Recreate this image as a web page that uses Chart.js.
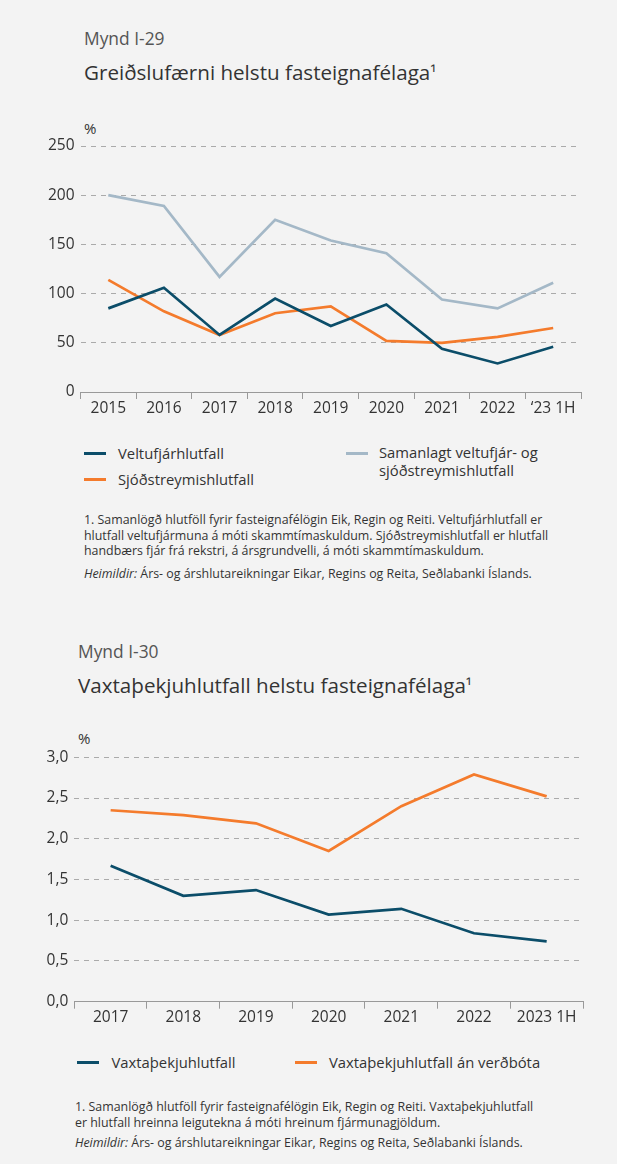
<!DOCTYPE html>
<html>
<head>
<meta charset="utf-8">
<script src="https://cdn.jsdelivr.net/npm/chart.js@4/dist/chart.umd.min.js"></script>
<style>
  html, body { margin:0; padding:0; background:#f3f3f3; }
  body { width:617px; height:1164px; position:relative; overflow:hidden;
         font-family:"Open Sans", "Noto Sans", sans-serif; color:#333; }
  .t { position:absolute; white-space:nowrap; }
  .mynd { font-size:17.4px; line-height:20px; color:#555; }
  .title { font-size:20.6px; line-height:24px; color:#333; }
  .title .s { font-size:0.85em; position:relative; top:-0.05em; }
  .unit { font-size:15px; line-height:18px; color:#333; }
  .leg { position:absolute; font-size:14.8px; line-height:18px; color:#333; white-space:nowrap; }
  .leg .sw { position:absolute; height:3px; width:22px; }
  .note { position:absolute; font-size:12.4px; line-height:15.5px; color:#333; white-space:nowrap; }
  canvas { position:absolute; left:0; }
</style>
</head>
<body>
<div class="t mynd" style="left:84px; top:28px;">Mynd I-29</div>
<div class="t title" style="left:84px; top:60px;">Greiðslufærni helstu fasteignafélaga<span class="s">¹</span></div>
<div class="t unit" style="left:84px; top:119px;">%</div>
<canvas id="c1" width="617" height="300" style="top:130px; width:617px; height:300px;"></canvas>
<div id="leg1"></div>
<div class="note" style="left:84px; top:512px;">1. Samanlögð hlutföll fyrir fasteignafélögin Eik, Regin og Reiti. Veltufjárhlutfall er<br>hlutfall veltufjármuna á móti skammtímaskuldum. Sjóðstreymishlutfall er hlutfall<br>handbærs fjár frá rekstri, á ársgrundvelli, á móti skammtímaskuldum.</div>
<div class="note" style="left:84px; top:566px;"><i>Heimildir:</i> Árs- og árshlutareikningar Eikar, Regins og Reita, Seðlabanki Íslands.</div>

<div class="t mynd" style="left:78px; top:641px;">Mynd I-30</div>
<div class="t title" style="left:78px; top:673px;">Vaxtaþekjuhlutfall helstu fasteignafélaga<span class="s">¹</span></div>
<div class="t unit" style="left:78px; top:729px;">%</div>
<canvas id="c2" width="617" height="300" style="top:740px; width:617px; height:300px;"></canvas>
<div id="leg2"></div>
<div class="note" style="left:75px; top:1099px;">1. Samanlögð hlutföll fyrir fasteignafélögin Eik, Regin og Reiti. Vaxtaþekjuhlutfall<br>er hlutfall hreinna leigutekna á móti hreinum fjármunagjöldum.</div>
<div class="note" style="left:75px; top:1135px;"><i>Heimildir:</i> Árs- og árshlutareikningar Eikar, Regins og Reita, Seðlabanki Íslands.</div>

<script>
// ---- Data: chart I-29 ----
const years1 = ['2015','2016','2017','2018','2019','2020','2021','2022','‘23 1H'];
const veltufjarhlutfall = [85, 106, 58, 95, 67, 89, 44, 29, 46];
const sjodstreymishlutfall = [114, 82, 58, 80, 87, 52, 50, 56, 65];
const samanlagt = [200, 189, 117, 175, 154, 141, 94, 85, 111];
const yTicks1 = [0, 50, 100, 150, 200, 250];

// ---- Data: chart I-30 ----
const years2 = ['2017','2018','2019','2020','2021','2022','2023 1H'];
const vaxtathekja = [1.67, 1.30, 1.37, 1.07, 1.14, 0.84, 0.74];
const vaxtathekjaAnVerdbota = [2.35, 2.29, 2.19, 1.85, 2.40, 2.79, 2.52];
const yTicks2 = ['0,0','0,5','1,0','1,5','2,0','2,5','3,0'];

const TEAL = '#0b4d69', ORANGE = '#f47b2c', GREY = '#a4b8c7';
const FONT = '"Open Sans", "Noto Sans", sans-serif';

function makeChart(id, labels, datasets, yMax, yStep, yFmt, area) {
  return new Chart(document.getElementById(id), {
    type: 'line',
    data: { labels, datasets: datasets.map(d => ({
      label: d.label, data: d.data, borderColor: d.color, backgroundColor: d.color,
      borderWidth: 2.7, pointRadius: 0, tension: 0, fill: false
    })) },
    options: {
      responsive: false, maintainAspectRatio: false, animation: false, devicePixelRatio: 1,
      layout: { padding: { left: 0, right: area.right, top: area.top, bottom: 0 } },
      plugins: { legend: { display: false }, tooltip: { enabled: false } },
      scales: {
        x: {
          offset: true,
          grid: { offset: true, drawOnChartArea: false, drawTicks: true, tickLength: 7, color: '#999', lineWidth: 1 },
          border: { display: true, color: '#999', width: 1 },
          ticks: { color: '#333', font: { family: FONT, size: 15.5 }, padding: 0, maxRotation: 0, autoSkip: false },
          afterFit: s => { s.height = area.xh; }
        },
        y: {
          min: 0, max: yMax,
          grid: { color: c => c.tick.value === 0 ? 'rgba(0,0,0,0)' : '#aaa', lineWidth: 1, drawTicks: false },
          border: { display: false, dash: [5, 5] },
          ticks: { stepSize: yStep, color: '#333', font: { family: FONT, size: 15.5 }, padding: 6, callback: yFmt },
          afterFit: s => { s.width = area.yw; }
        }
      }
    }
  });
}

const ds1 = [
  { label: 'Veltufjárhlutfall', data: veltufjarhlutfall, color: TEAL },
  { label: 'Sjóðstreymishlutfall', data: sjodstreymishlutfall, color: ORANGE },
  { label: 'Samanlagt veltufjár- og sjóðstreymishlutfall', data: samanlagt, color: GREY }
];
makeChart('c1', years1, ds1, 250, 50, v => yTicks1.includes(v) ? String(v) : '',
  { right: 617 - 581, top: 16, xh: 38, yw: 80.5 });

const ds2 = [
  { label: 'Vaxtaþekjuhlutfall', data: vaxtathekja, color: TEAL },
  { label: 'Vaxtaþekjuhlutfall án verðbóta', data: vaxtathekjaAnVerdbota, color: ORANGE }
];
makeChart('c2', years2, ds2, 3, 0.5, v => yTicks2[Math.round(v / 0.5)] || '',
  { right: 617 - 583, top: 17.3, xh: 38.3, yw: 74.3 });

// ---- HTML legends ----
function legendItem(parent, d, lineX, lineY, textX, textTop, html) {
  const sw = document.createElement('div');
  sw.className = 'leg';
  sw.style.left = lineX + 'px'; sw.style.top = (lineY - 1.5) + 'px';
  sw.innerHTML = '<div class="sw" style="background:' + d.color + '"></div>';
  parent.appendChild(sw);
  const tx = document.createElement('div');
  tx.className = 'leg';
  tx.style.left = textX + 'px'; tx.style.top = textTop + 'px';
  tx.innerHTML = html || d.label;
  parent.appendChild(tx);
}
const l1 = document.getElementById('leg1');
legendItem(l1, ds1[0], 84, 453, 118, 444);
legendItem(l1, ds1[1], 84, 479, 118, 470);
legendItem(l1, ds1[2], 346, 453, 379, 443, 'Samanlagt veltufjár- og<br>sjóðstreymishlutfall');
const l2 = document.getElementById('leg2');
legendItem(l2, ds2[0], 77, 1062, 111.5, 1053);
legendItem(l2, ds2[1], 295, 1062, 329, 1053);
</script>
</body>
</html>
